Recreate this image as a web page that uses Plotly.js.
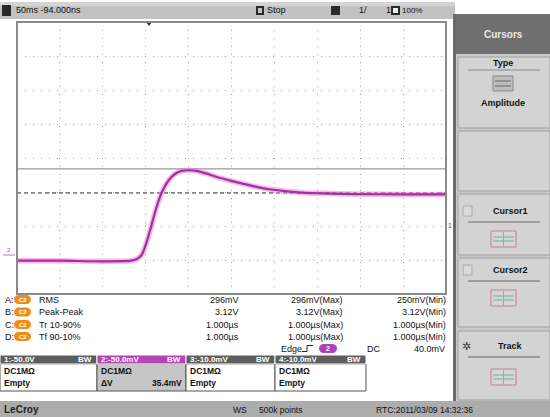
<!DOCTYPE html>
<html><head><meta charset="utf-8">
<script src="https://cdn.plot.ly/plotly-3.0.1.min.js"></script>
<style>html,body{margin:0;padding:0;background:#fff}#chart{width:550px;height:417px}</style>
</head><body><div id="chart"></div>
<script>
const timeNs = [0, 50, 100, 133, 139, 145, 151, 156.5, 162, 168, 174, 180, 186, 192, 200, 209, 221, 233, 251, 274, 294, 315, 333, 356, 392, 451, 500];
const ch2mV  = [-151, -151, -152, -151, -149, -143, -124, -100, -75, -53, -38, -28, -22, -19, -18, -19, -23, -28, -34, -41, -46, -49, -51, -52, -53, -53.5, -53.5];
const cursorLevels = [-16, -51.4];
const measLetters = ['A:', 'B:', 'C:', 'D:'];
const measNames = ['RMS', 'Peak-Peak', 'Tr 10-90%', 'Tf 90-10%'];
const measValues = ['296mV', '3.12V', '1.000µs', '1.000µs'];
const measMax = ['296mV(Max)', '3.12V(Max)', '1.000µs(Max)', '1.000µs(Max)'];
const measMin = ['250mV(Min)', '3.12V(Min)', '1.000µs(Min)', '1.000µs(Min)'];
const chHeaders = ['1:-50.0V', '2:-50.0mV', '3:-10.0mV', '4:-10.0mV'];
const chCoupling = ['DC1MΩ', 'DC1MΩ', 'DC1MΩ', 'DC1MΩ'];
const chRow2 = ['Empty', 'ΔV', 'Empty', 'Empty'];
const topLeftText = '50ms -94.000ns';
const statusTexts = ['LeCroy', 'WS', '500k points', 'RTC:2011/03/09 14:32:36'];
const panelLabels = ['Cursors', 'Type', 'Amplitude', 'Cursor1', 'Cursor2', 'Track'];

// ---- layout helpers (pixels -> paper) ----
const W = 550, H = 417;
const F = 'Liberation Sans, Arial, sans-serif';
const px = x => x / W, py = y => 1 - y / H;
const shapes = [], ann = [];
function rect(x0, y0, x1, y1, fill, line, lw) {
  shapes.push({type: 'rect', xref: 'paper', yref: 'paper', x0: px(x0), x1: px(x1), y0: py(y1), y1: py(y0),
    fillcolor: fill, line: {color: line || fill, width: lw == null ? 0 : lw}, layer: 'above'});
}
function hline(x0, x1, y, color, w, dash) {
  shapes.push({type: 'line', xref: 'paper', yref: 'paper', x0: px(x0), x1: px(x1), y0: py(y), y1: py(y),
    line: {color: color, width: w || 1, dash: dash || 'solid'}, layer: 'above'});
}
function vline(x, y0, y1, color, w) {
  shapes.push({type: 'line', xref: 'paper', yref: 'paper', x0: px(x), x1: px(x), y0: py(y0), y1: py(y1),
    line: {color: color, width: w || 1}, layer: 'above'});
}
function pill(x0, y0, x1, y1, fill) {
  const r = (y1 - y0) / 2;
  const P = (x, y) => px(x) + ',' + py(y);
  let d = 'M' + P(x0 + r, y0) + ' L' + P(x1 - r, y0);
  for (let i = 1; i <= 6; i++) { const a = -Math.PI / 2 + i * Math.PI / 6; d += ' L' + P(x1 - r + r * Math.cos(a), y0 + r + r * Math.sin(a)); }
  d += ' L' + P(x0 + r, y1);
  for (let i = 1; i <= 6; i++) { const a = Math.PI / 2 + i * Math.PI / 6; d += ' L' + P(x0 + r + r * Math.cos(a), y0 + r + r * Math.sin(a)); }
  d += ' Z';
  shapes.push({type: 'path', xref: 'paper', yref: 'paper', path: d, fillcolor: fill, line: {width: 0}, layer: 'above'});
}
function txt(x, y, s, o) {
  o = o || {};
  ann.push({xref: 'paper', yref: 'paper', x: px(x), y: py(y), text: s, showarrow: false,
    xanchor: o.anchor || 'left', yanchor: 'middle', borderpad: 0,
    font: {family: o.family || F, size: o.size || 9, color: o.color || '#111', weight: o.weight || 'normal'}});
}

// grid geometry
const GX0 = 17, GX1 = 446, GY0 = 22, GY1 = 294;

// ---- top bar ----
rect(0, 2, 455, 19, '#c2c2c2');
rect(0, 2, 455, 6, '#d4d4d4');
rect(2, 5, 11, 16, '#2a2a2a');
txt(15, 10.5, topLeftText, {size: 9});
rect(256, 6, 264, 15, '#2a2a2a');
rect(258, 8, 262, 13, '#c2c2c2');
txt(266, 10.5, 'Stop', {size: 9});
rect(331, 6, 340, 15, '#2a2a2a');
txt(358, 10.5, '1/', {size: 9});
txt(385, 10.5, '1', {size: 9});
rect(391, 6, 400, 15, '#2a2a2a');
rect(393, 8, 398, 13, '#eeeeee');
txt(401, 10.5, '100%', {size: 8});

// ---- right panel ----
const PX0 = 455;
rect(PX0 - 2, 14, W, 402, '#c9c9c9');
rect(PX0 - 2, 14, PX0 + 1, 402, '#6a6a6a');
rect(PX0 + 1, 14, W, 54, '#6f6f6f');
txt(503, 34, panelLabels[0], {size: 10, color: '#e8e8e8', anchor: 'center', weight: 'bold'});
function box(y0, y1) { rect(PX0 + 3, y0, W, y1, '#d3d3d3', '#a0a0a0', 1); }
box(57, 128); box(131, 191); box(194, 255); box(258, 327); box(331, 400);
txt(503, 63, panelLabels[1], {size: 9, anchor: 'center', weight: 'bold'});
hline(468, 540, 70, '#8a8a8a', 1);
rect(493, 76, 513, 91, '#bdbdbd', '#888', 1);
hline(495, 511, 81, '#666', 1); hline(495, 511, 86, '#666', 1);
txt(503, 103, panelLabels[2], {size: 9, anchor: 'center', weight: 'bold'});
function cursIcon(yc) {
  rect(491, yc - 8, 516, yc + 8, '#d6d6d6', '#c0809a', 1);
  hline(493, 514, yc - 2, '#6ab0a0', 1); hline(493, 514, yc + 2, '#6ab0a0', 1);
  vline(503.5, yc - 7, yc + 7, '#9aa8b8', 1);
}
rect(463, 206, 472, 216, '#dadada', '#aaaaaa', 1);
txt(510, 211, panelLabels[3], {size: 9, anchor: 'center', weight: 'bold'});
hline(468, 540, 222, '#666', 1);
cursIcon(239);
rect(463, 265, 472, 275, '#dadada', '#aaaaaa', 1);
txt(510, 270, panelLabels[4], {size: 9, anchor: 'center', weight: 'bold'});
hline(468, 540, 281, '#666', 1);
cursIcon(298);
txt(466, 346, '✲', {size: 11, anchor: 'center', color: '#333'});
txt(510, 346, panelLabels[5], {size: 9, anchor: 'center', weight: 'bold'});
hline(468, 540, 357, '#666', 1);
cursIcon(377);

// ---- measurement table ----
const rowY = [299.5, 312, 324.5, 336.5];
for (let i = 0; i < 4; i++) {
  txt(4, rowY[i], measLetters[i]);
  pill(14, rowY[i] - 4.5, 31, rowY[i] + 4.5, '#f08c1c');
  txt(22.5, rowY[i], 'C2', {size: 6, color: '#fff', anchor: 'center', weight: 'bold'});
  txt(38, rowY[i], measNames[i]);
  txt(240, rowY[i], measValues[i], {anchor: 'right'});
  txt(344, rowY[i], measMax[i], {anchor: 'right'});
  txt(447, rowY[i], measMin[i], {anchor: 'right'});
}
// trigger line
const TY = 348.5;
txt(280, TY, 'Edge');
hline(302, 307, TY + 3, '#222', 1); vline(307, TY - 3, TY + 3, '#222', 1); hline(307, 313, TY - 3, '#222', 1);
pill(319, TY - 4.5, 337, TY + 4.5, '#b040b8');
txt(328, TY, '2', {size: 7, color: '#fff', anchor: 'center', weight: 'bold'});
txt(366, TY, 'DC');
txt(446, TY, '40.0mV', {anchor: 'right'});

// ---- channel boxes ----
const colX = [0, 97, 186, 275, 366];
const SY0 = 355, SY1 = 364, BY1 = 391;
for (let i = 0; i < 4; i++) {
  const x0 = colX[i], x1 = colX[i + 1];
  rect(x0, SY1, x1, BY1, i === 1 ? '#c6c6c6' : '#ffffff', '#555', 1);
  rect(x0, SY0, x1, SY1, i === 1 ? '#b545b5' : '#5e5e5e', '#ffffff', 1);
  txt(x0 + 3, (SY0 + SY1) / 2, chHeaders[i], {size: 8, color: '#fff', weight: 'bold'});
  txt(x1 - 4, (SY0 + SY1) / 2, 'BW', {size: 8, color: '#fff', weight: 'bold', anchor: 'right'});
  txt(x0 + 3, 371, chCoupling[i], {size: 8.5, weight: 'bold'});
  txt(x0 + 3, 383, chRow2[i], {size: 8.5, weight: 'bold'});
}
txt(colX[2] - 3, 383, (cursorLevels[0] - cursorLevels[1]).toFixed(1) + 'mV', {size: 8.5, weight: 'bold', anchor: 'right'});

// ---- status bar ----
rect(0, 401, W, H, '#acacac');
txt(3, 409.5, statusTexts[0], {size: 10, weight: 'bold', color: '#222'});
txt(232, 409.5, statusTexts[1], {size: 8.5});
txt(258, 409.5, statusTexts[2], {size: 8.5});
txt(375, 409.5, statusTexts[3], {size: 8.5});

// ---- grid markers ----
txt(9, 250, '2', {size: 6, color: '#b040b8', anchor: 'center'});
hline(3, 15, 255, '#c070c0', 1);
txt(450, 226, '1', {size: 7, color: '#555', anchor: 'center'});
shapes.push({type: 'path', xref: 'paper', yref: 'paper',
  path: 'M' + px(146) + ',' + py(22) + ' L' + px(152) + ',' + py(22) + ' L' + px(149) + ',' + py(26) + ' Z',
  fillcolor: '#333', line: {width: 0}, layer: 'above'});

// cursors (data coords)
shapes.push({type: 'line', xref: 'paper', yref: 'y', x0: px(GX0), x1: px(GX1), y0: cursorLevels[0], y1: cursorLevels[0],
  line: {color: '#808080', width: 1}, layer: 'below'});
shapes.push({type: 'line', xref: 'paper', yref: 'y', x0: px(GX0), x1: px(GX1), y0: cursorLevels[1], y1: cursorLevels[1],
  line: {color: '#222', width: 1, dash: '4px,3px'}, layer: 'below'});
// grid frame
shapes.push({type: 'rect', xref: 'paper', yref: 'paper', x0: px(GX0), x1: px(GX1), y0: py(GY1), y1: py(GY0),
  line: {color: '#8a8a8a', width: 2}, fillcolor: 'rgba(0,0,0,0)', layer: 'above'});

const traces = [
  {x: timeNs, y: ch2mV, type: 'scatter', mode: 'lines', line: {color: 'rgba(235,130,225,0.55)', width: 5.5, shape: 'spline', smoothing: 0.8}, hoverinfo: 'skip'},
  {x: timeNs, y: ch2mV, type: 'scatter', mode: 'lines', line: {color: '#a52f9f', width: 2.2, shape: 'spline', smoothing: 0.8}}
];

const layout = {
  width: W, height: H, margin: {l: 0, r: 0, t: 0, b: 0},
  paper_bgcolor: '#ffffff', plot_bgcolor: '#ffffff', showlegend: false,
  xaxis: {domain: [px(GX0), px(GX1)], range: [0, 500], dtick: 50, tick0: 0, showticklabels: false, ticks: '',
    showgrid: true, gridcolor: '#9a9a9a', gridwidth: 1, griddash: '1px,7px', zeroline: false, showline: false, fixedrange: true},
  yaxis: {domain: [py(GY1), py(GY0)], range: [-200, 200], dtick: 50, tick0: 0, showticklabels: false, ticks: '',
    showgrid: true, gridcolor: '#9a9a9a', gridwidth: 1, griddash: '1px,7px', zeroline: false, showline: false, fixedrange: true},
  shapes: shapes, annotations: ann
};
Plotly.newPlot('chart', traces, layout, {displayModeBar: false, staticPlot: true});
</script></body></html>
